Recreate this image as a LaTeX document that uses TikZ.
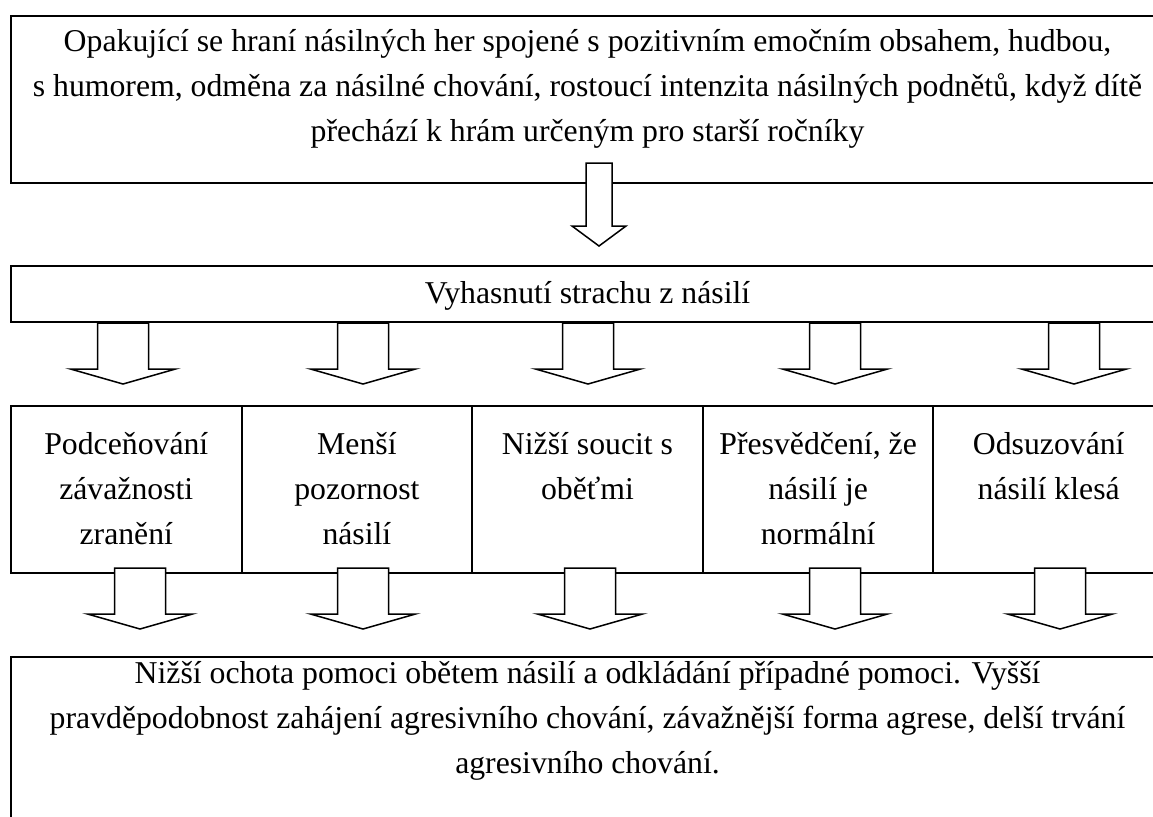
\documentclass[tikz,border=0pt]{standalone}
\usepackage{fontspec}
\setmainfont{Liberation Serif}
\usetikzlibrary{positioning,calc}

% top aligned, centred text in a box of fixed size; #3 = first baseline below the top
\newcommand{\boxtext}[4]{\begin{minipage}[c][#2][t]{#1}\centering\rule{0pt}{#3}#4\end{minipage}}

\tikzset{
  cell/.style={draw, thick, outer sep=0pt, inner sep=0pt,
    font=\fontsize{12.7}{18}\selectfont},
  blockarrow/.style n args={3}{draw, fill=white, semithick, to path={
      let \p1=(\tikztostart), \p2=(\tikztotarget) in
      (\x1-#1,\y1) -- (\x1+#1,\y1) -- (\x1+#1,\y2+#3) -- (\x1+#2,\y2+#3)
      -- (\x1,\y2) -- (\x1-#2,\y2+#3) -- (\x1-#1,\y2+#3) -- cycle}},
  toparrow/.style={blockarrow={5.2pt}{10.8pt}{8pt}},
  rowarrow/.style={blockarrow={10.2pt}{21pt}{6pt}}
}

\begin{document}
\begin{tikzpicture}[x=0.4pt, y=-0.4pt]
  \path[use as bounding box, fill=white] (0,0) rectangle (1153,816);
  \clip (0,0) rectangle (1153,816);

  \node[cell, anchor=north west] (play) at (11,16) {\boxtext{461.2pt}{66.8pt}{14pt}{Opakující se hraní násilných her spojené s pozitivním emočním obsahem, hudbou,\\
    s humorem, odměna za násilné chování, rostoucí intenzita násilných podnětů, když dítě\\
    přechází k hrám určeným pro starší ročníky}};
  \node[cell, below=33.2pt of play] (fear) {\boxtext{461.2pt}{22.4pt}{14.8pt}{Vyhasnutí strachu z násilí}};

  \node[cell, below=33.6pt of fear.south west, anchor=north west] (injury) {\boxtext{92.24pt}{66.8pt}{19.2pt}{Podceňování\\ závažnosti\\ zranění}};
  \node[cell, right=0pt of injury] (attention) {\boxtext{92.24pt}{66.8pt}{19.2pt}{Menší\\ pozornost\\ násilí}};
  \node[cell, right=0pt of attention] (empathy) {\boxtext{92.24pt}{66.8pt}{19.2pt}{Nižší soucit s\\ oběťmi}};
  \node[cell, right=0pt of empathy] (norm) {\boxtext{92.24pt}{66.8pt}{19.2pt}{Přesvědčení, že\\ násilí je\\ normální}};
  \node[cell, right=0pt of norm] (judge) {\boxtext{92.24pt}{66.8pt}{19.2pt}{Odsuzování\\ násilí klesá}};

  \node[cell, below=33.6pt of injury.south west, anchor=north west] (result) {\boxtext{461.2pt}{72pt}{10.4pt}{Nižší ochota pomoci obětem násilí a odkládání případné pomoci. Vyšší\\
    pravděpodobnost zahájení agresivního chování, závažnější forma agrese, delší trvání\\
    agresivního chování.}};

  \draw[toparrow] ($(play.south -| 599,0)+(0,-20)$) to ($(fear.north -| 599,0)+(0,-20)$);
  \foreach \x/\n in {123/injury,363/attention,588/empathy,835/norm,1074/judge}
    \draw[rowarrow] ($(fear.south -| \x,0)+(0,1)$) to ($(\n.north -| \x,0)+(0,-22)$);
  \foreach \x/\n in {140/injury,363/attention,590/empathy,835/norm,1060/judge}
    \draw[rowarrow] ($(\n.south -| \x,0)+(0,-5)$) to ($(result.north -| \x,0)+(0,-28)$);
\end{tikzpicture}
\end{document}
